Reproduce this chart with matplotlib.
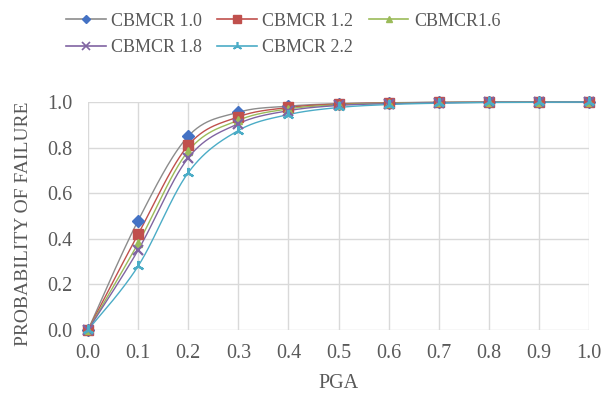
import numpy as np
import matplotlib.pyplot as plt
from matplotlib.lines import Line2D

pga = [0.0, 0.1, 0.2, 0.3, 0.4, 0.5, 0.6, 0.7, 0.8, 0.9, 1.0]
labels = ['CBMCR 1.0', 'CBMCR 1.2', 'CBMCR1.6', 'CBMCR 1.8', 'CBMCR 2.2']
pf_10 = [0.0, 0.48, 0.85, 0.955, 0.982, 0.993, 0.997, 0.999, 1.0, 1.0, 1.0]
pf_12 = [0.0, 0.42, 0.81, 0.935, 0.976, 0.991, 0.996, 0.998, 0.999, 1.0, 1.0]
pf_16 = [0.0, 0.38, 0.785, 0.92, 0.97, 0.988, 0.995, 0.998, 0.999, 1.0, 1.0]
pf_18 = [0.0, 0.35, 0.755, 0.905, 0.962, 0.985, 0.993, 0.997, 0.999, 0.999, 1.0]
pf_22 = [0.0, 0.28, 0.69, 0.875, 0.945, 0.976, 0.989, 0.995, 0.998, 0.999, 1.0]

line_colors = ['#8c8c8c', '#c0504d', '#9bbb59', '#8064a2', '#4bacc6']
marker_colors = ['#4472c4', '#c0504d', '#9bbb59', '#8064a2', '#4bacc6']
markers = ['D', 's', '^', 'x', (3, 2, 0)]
msizes = [6, 7, 6, 7, 8]
text_gray = '#595959'


def smooth(x, y, n=30):
    """Catmull-Rom style bezier pass through all points, like spreadsheet smoothed lines."""
    x = np.asarray(x, float)
    y = np.asarray(y, float)
    px = np.concatenate([[x[0]], x, [x[-1]]])
    py = np.concatenate([[y[0]], y, [y[-1]]])
    xs, ys = [], []
    t = np.linspace(0, 1, n)
    for i in range(1, len(px) - 2):
        p0 = np.array([px[i], py[i]])
        p3 = np.array([px[i + 1], py[i + 1]])
        c1 = p0 + (np.array([px[i + 1], py[i + 1]]) - np.array([px[i - 1], py[i - 1]])) / 6
        c2 = p3 - (np.array([px[i + 2], py[i + 2]]) - np.array([px[i], py[i]])) / 6
        b = ((1 - t) ** 3)[:, None] * p0 + (3 * (1 - t) ** 2 * t)[:, None] * c1 \
            + (3 * (1 - t) * t ** 2)[:, None] * c2 + (t ** 3)[:, None] * p3
        xs.append(b[:, 0])
        ys.append(b[:, 1])
    return np.concatenate(xs), np.concatenate(ys)


plt.rcParams['font.family'] = ['Liberation Serif', 'DejaVu Serif']
fig = plt.figure(figsize=(6.13, 3.97), dpi=100)
ax = fig.add_axes([0.1436, 0.169, 0.8174, 0.574])

series = [pf_10, pf_12, pf_16, pf_18, pf_22]
handles = []
for vals, lc, mc, mk, ms, lab in zip(series, line_colors, marker_colors, markers, msizes, labels):
    sx, sy = smooth(pga, vals)
    ax.plot(sx, sy, color=lc, lw=1.0, clip_on=False, zorder=2)
    ax.plot(pga, vals, ls='none', marker=mk, ms=ms, color=mc, mfc=mc, mec=mc,
            mew=1.6 if mk in ('x', (3, 2, 0)) else 1.0, clip_on=False, zorder=3)
    handles.append(Line2D([], [], color=lc, lw=1.2, marker=mk, ms=ms - 1.5, mfc=mc, mec=mc,
                          mew=1.2 if mk in ('x', (3, 2, 0)) else 1.0, label=lab))

ax.set_xlim(0, 1)
ax.set_ylim(0, 1)
ax.set_xticks(np.arange(0, 1.01, 0.1))
ax.set_yticks(np.arange(0, 1.01, 0.2))
ax.xaxis.set_major_formatter(plt.FormatStrFormatter('%.1f'))
ax.yaxis.set_major_formatter(plt.FormatStrFormatter('%.1f'))
ax.grid(True, color='#d9d9d9', lw=1.0)
ax.set_axisbelow(True)
for s in ax.spines.values():
    s.set_visible(False)
ax.tick_params(length=0, labelsize=14.5, colors=text_gray)
ax.tick_params(axis='y', pad=11)
ax.tick_params(axis='x', pad=10)
ax.set_xlabel('PGA', fontsize=14.5, color=text_gray, labelpad=8)
ax.set_ylabel('PROBABILITY OF FAILURE', fontsize=14, color=text_gray, labelpad=11)
ax.yaxis.label.set_y(0.465)

# reorder so the column-major legend reads row by row
order = [0, 3, 1, 4, 2]
fig.legend([handles[i] for i in order], [labels[i] for i in order], ncol=3,
           loc='upper left', bbox_to_anchor=(55 / 613, 0.995), frameon=False, borderpad=0.1,
           fontsize=13, labelcolor=text_gray, handlelength=2.2,
           columnspacing=0.85, handletextpad=0.3, labelspacing=0.5)

fig.savefig('out.png', dpi=100)
